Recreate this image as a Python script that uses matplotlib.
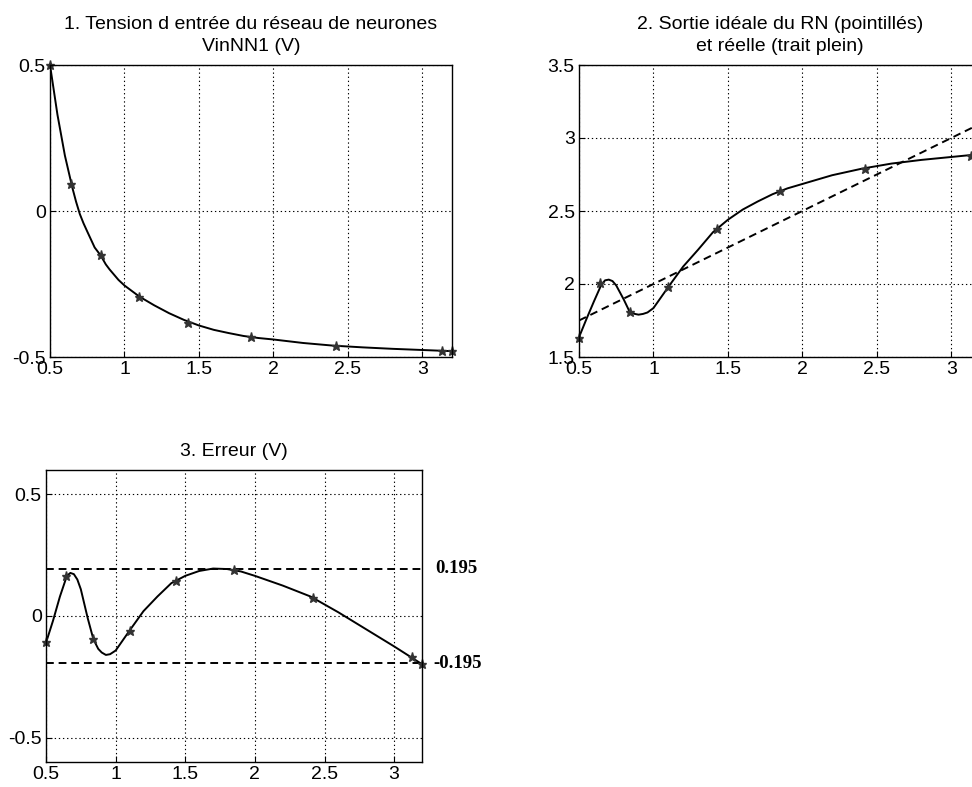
import matplotlib
matplotlib.use("Agg")
import matplotlib.pyplot as plt

plt.rcParams['font.family'] = ['Liberation Sans', 'DejaVu Sans']

# ---------------- data ----------------
x_curve = [0.5, 0.55, 0.6, 0.65, 0.675, 0.7, 0.725, 0.75, 0.8, 0.84, 0.875, 0.9, 0.93, 0.96,
           1.0, 1.1, 1.2, 1.3, 1.4, 1.5, 1.6, 1.7, 1.8, 1.9, 2.0, 2.2, 2.4, 2.6, 2.8, 3.0, 3.2]

vin_curve = [0.5, 0.33, 0.19, 0.08, 0.032, -0.01, -0.042, -0.07, -0.125, -0.152, -0.183,
             -0.2, -0.218, -0.236, -0.255, -0.293, -0.323, -0.35, -0.373, -0.392, -0.407,
             -0.418, -0.428, -0.435, -0.44, -0.452, -0.461, -0.467, -0.472, -0.476, -0.48]

real_curve = [1.635, 1.76, 1.88, 1.995, 2.025, 2.03, 2.02, 1.99, 1.895, 1.81, 1.795, 1.79,
              1.795, 1.805, 1.835, 1.98, 2.12, 2.235, 2.355, 2.44, 2.51, 2.565, 2.615, 2.655,
              2.685, 2.745, 2.79, 2.825, 2.85, 2.87, 2.89]

err_curve = [-0.11, -0.02, 0.08, 0.165, 0.177, 0.172, 0.15, 0.11, -0.01, -0.095, -0.135,
             -0.15, -0.16, -0.157, -0.142, -0.06, 0.02, 0.08, 0.135, 0.165, 0.185, 0.195,
             0.193, 0.183, 0.165, 0.125, 0.08, 0.015, -0.055, -0.125, -0.198]

ideal_x = [0.5, 3.2]
ideal_y = [1.75, 3.1]

x_mark = [0.5, 0.644, 0.84, 1.1, 1.43, 1.85, 2.42, 3.13, 3.2]
vin_mark = [0.5, 0.093, -0.152, -0.293, -0.383, -0.431, -0.462, -0.478, -0.48]
real_mark = [1.63, 2.007, 1.807, 1.98, 2.374, 2.638, 2.791, 2.876, 2.89]
err_mark = [-0.108, 0.163, -0.095, -0.06, 0.144, 0.187, 0.076, -0.169, -0.198]

err_bound = 0.195

xticks = [0.5, 1, 1.5, 2, 2.5, 3]
xtick_labels = ['0.5', '1', '1.5', '2', '2.5', '3']
y1_ticks = [-0.5, 0, 0.5]
y1_labels = ['-0.5', '0', '0.5']
y2_ticks = [1.5, 2, 2.5, 3, 3.5]
y2_labels = ['1.5', '2', '2.5', '3', '3.5']
y3_ticks = [-0.5, 0, 0.5]
y3_labels = ['-0.5', '0', '0.5']

titles = ["1. Tension d entrée du réseau de neurones\nVinNN1 (V)",
          "2. Sortie idéale du RN (pointillés)\net réelle (trait plein)",
          "3. Erreur (V)"]

# ---------------- figure ----------------
W, H = 972, 787
fig = plt.figure(figsize=(W / 100, H / 100), dpi=100)
fig.patch.set_facecolor('white')

def px_axes(left, top, right, bottom):
    return fig.add_axes([left / W, 1 - bottom / H, (right - left) / W, (bottom - top) / H])

ax1 = px_axes(50, 65, 452, 357)
ax2 = px_axes(579, 65, 981, 357)
ax3 = px_axes(46, 470, 422, 762)

grid_style = dict(color='black', linestyle=(0, (1.2, 2.5)), linewidth=0.8)

def style(ax, yt, yl, ylim, title):
    ax.set_xlim(0.5, 3.2)
    ax.set_ylim(*ylim)
    ax.set_xticks(xticks)
    ax.set_xticklabels(xtick_labels)
    ax.set_yticks(yt)
    ax.set_yticklabels(yl)
    ax.tick_params(direction='in', length=4, width=0.8, labelsize=14, pad=3,
                   top=False, right=False)
    ax.grid(True, **grid_style)
    for s in ax.spines.values():
        s.set_linewidth(1.0)
        s.set_color('black')
    ax.set_title(title, fontsize=14, pad=10, linespacing=1.4)

line_kw = dict(color='black', linewidth=1.4)
mark_kw = dict(color='#333333', marker='*', markersize=6.5, linestyle='none')

# Plot 1
style(ax1, y1_ticks, y1_labels, (-0.5, 0.5), titles[0])
ax1.plot(x_curve, vin_curve, **line_kw)
ax1.plot(x_mark, vin_mark, clip_on=False, **mark_kw)

# Plot 2
style(ax2, y2_ticks, y2_labels, (1.5, 3.5), titles[1])
ax2.plot(ideal_x, ideal_y, color='black', linewidth=1.4, linestyle=(0, (4, 2.5)))
ax2.plot(x_curve, real_curve, **line_kw)
ax2.plot(x_mark, real_mark, clip_on=False, **mark_kw)

# Plot 3
style(ax3, y3_ticks, y3_labels, (-0.6, 0.6), titles[2])
ax3.plot([0.5, 3.2], [err_bound, err_bound], color='black', linewidth=1.4,
         linestyle=(0, (4, 2.5)))
ax3.plot([0.5, 3.2], [-err_bound, -err_bound], color='black', linewidth=1.4,
         linestyle=(0, (4, 2.5)))
ax3.plot(x_curve, err_curve, **line_kw)
ax3.plot(x_mark, err_mark, clip_on=False, **mark_kw)

ax3.text(1.035, err_bound, f"{err_bound}", transform=ax3.get_yaxis_transform(),
         family=['Liberation Serif', 'DejaVu Serif'], fontweight='bold', fontsize=13.5,
         va='center', ha='left')
ax3.text(1.03, -err_bound, f"-{err_bound}", transform=ax3.get_yaxis_transform(),
         family=['Liberation Serif', 'DejaVu Serif'], fontweight='bold', fontsize=13.5,
         va='center', ha='left')

fig.savefig('out.png', dpi=100, facecolor='white')
